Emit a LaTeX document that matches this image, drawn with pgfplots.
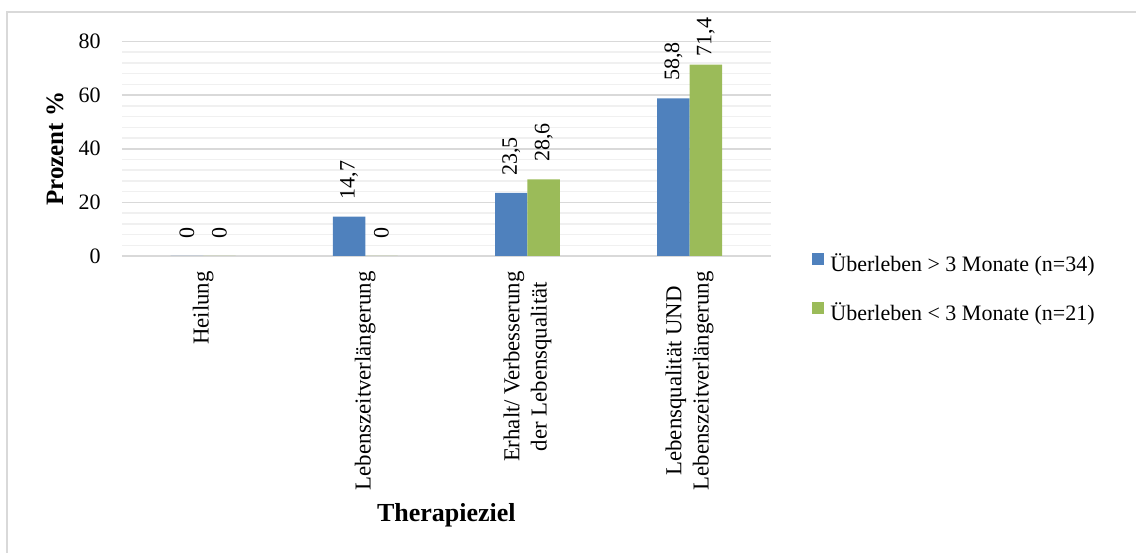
\documentclass[border=0pt]{standalone}
\usepackage{fontspec}
\setmainfont{Liberation Serif}
\usepackage{pgfplots}
\pgfplotsset{compat=1.18}
\definecolor{serA}{HTML}{4F81BD}
\definecolor{serB}{HTML}{9BBB59}
\definecolor{gridmaj}{HTML}{D9D9D9}
\definecolor{gridmin}{HTML}{F0F0F0}
\pgfplotsset{/pgf/number format/assume math mode=true}
\begin{document}
\begin{tikzpicture}[x=1pt,y=1pt]
\useasboundingbox (0,0) rectangle (568,276);
% outer chart frame
\draw[gridmaj, line width=0.7pt] (3.5,-2) -- (3.5,270) -- (570,270);
\begin{axis}[
  at={(61pt,148pt)}, anchor=south west,
  scale only axis, width=324.35pt, height=107.25pt,
  ybar, bar width=0.2,
  xmin=-0.5, xmax=3.5, ymin=0, ymax=80,
  xtick={0,1,2,3},
  xticklabels={Heilung, Lebenszeitverlängerung, {Erhalt/ Verbesserung\\der Lebensqualität}, {Lebensqualität UND\\Lebenszeitverlängerung}},
  ytick={0,20,40,60,80},
  minor y tick num=4,
  ymajorgrids, yminorgrids,
  major grid style={gridmaj, line width=0.75pt},
  minor grid style={gridmin, line width=0.75pt},
  axis line style={draw=none},
  major tick length=0pt, minor tick length=0pt,
  tick style={draw=none},
  yticklabel style={anchor=east, inner sep=0pt, xshift=-10.5pt, font=\fontsize{11}{13}\selectfont},
  xticklabel style={rotate=90, anchor=east, inner xsep=7.5pt, inner ysep=0pt, align=center, font=\fontsize{11.4}{13.6}\selectfont},
  ylabel={Prozent \%},
  ylabel style={at={(axis description cs:-0.1033,0.5)}, anchor=center, font=\bfseries\fontsize{12.5}{15}\selectfont},
  xlabel={Therapieziel},
  xlabel style={at={(axis description cs:0.5,-1.240)}, anchor=base, font=\bfseries\fontsize{13}{15}\selectfont},
  nodes near coords,
  % labels near the top of the plot area are pulled closer to their bar
  visualization depends on={y \as \rawy},
  every node near coord/.append style={rotate=90, anchor=west, inner ysep=0pt,
    inner xsep={ifthenelse(\rawy>70,4,8.5)*1pt},
    font=\fontsize{11}{13}\selectfont, text=black},
  /pgf/number format/.cd, use comma, fixed, precision=1, /pgfplots/.cd,
  legend image code/.code={\fill[#1] (0pt,0.5pt) rectangle (6pt,6.5pt);},
  legend cell align=left,
  legend style={at={(axis description cs:1.0637,-0.157)}, anchor=west, draw=none, fill=none,
    inner sep=0pt, row sep=12pt, column sep=3pt,
    nodes={inner sep=0pt, text height=9pt, text depth=3pt},
    font=\fontsize{11}{13}\selectfont},
]
\addplot[fill=serA, draw=none, bar shift=-0.1] coordinates {(0,0) (1,14.7) (2,23.5) (3,58.8)};
\addplot[fill=serB, draw=none, bar shift=0.1] coordinates {(0,0) (1,0) (2,28.6) (3,71.4)};
\legend{Überleben > 3 Monate (n=34), Überleben < 3 Monate (n=21)}
\end{axis}
\end{tikzpicture}
\end{document}
